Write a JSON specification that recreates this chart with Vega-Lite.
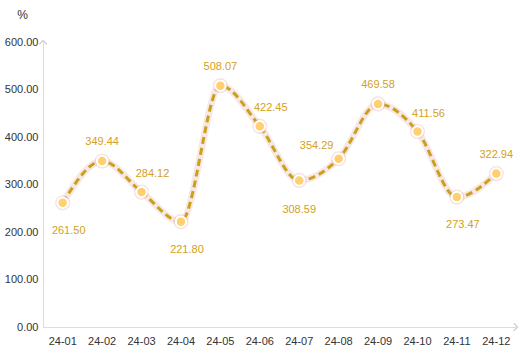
{
  "$schema": "https://vega.github.io/schema/vega-lite/v6.json",
  "width": 473,
  "height": 285,
  "autosize": "none",
  "padding": {"left": 43, "top": 42, "right": 13, "bottom": 36},
  "background": "white",
  "config": {
    "view": {"stroke": null},
    "font": "Liberation Sans",
    "axis": {"labelFont": "Liberation Sans", "titleFont": "Liberation Sans"}
  },
  "datasets": {
    "main": [
      {"month": "24-01", "value": 261.50},
      {"month": "24-02", "value": 349.44},
      {"month": "24-03", "value": 284.12},
      {"month": "24-04", "value": 221.80},
      {"month": "24-05", "value": 508.07},
      {"month": "24-06", "value": 422.45},
      {"month": "24-07", "value": 308.59},
      {"month": "24-08", "value": 354.29},
      {"month": "24-09", "value": 469.58},
      {"month": "24-10", "value": 411.56},
      {"month": "24-11", "value": 273.47},
      {"month": "24-12", "value": 322.94}
    ],
    "arrows": [
      {"month": "24-01", "value": 600, "dir": "up"},
      {"month": "24-12", "value": 0, "dir": "right"}
    ]
  },
  "data": {"name": "main"},
  "encoding": {
    "x": {
      "field": "month", "type": "ordinal", "sort": null,
      "scale": {"type": "band", "paddingInner": 0, "paddingOuter": 0},
      "axis": {"title": null, "labelAngle": 0, "ticks": false, "labelPadding": 8, "domainColor": "#dddddd", "labelColor": "#333333", "labelFontSize": 11, "grid": false}
    },
    "y": {
      "field": "value", "type": "quantitative",
      "scale": {"domain": [0, 600], "nice": false},
      "axis": {"title": "%", "titleAngle": 0, "titleX": -21, "titleY": -28, "titleAlign": "center", "titleBaseline": "middle", "titleFontWeight": "normal", "titleFontSize": 12, "titleColor": "#333333", "values": [0, 100, 200, 300, 400, 500, 600], "format": ".2f", "ticks": false, "labelPadding": 5, "domainColor": "#dddddd", "labelColor": "#333333", "labelFontSize": 11, "grid": false}
    }
  },
  "layer": [
    {"mark": {"type": "line", "interpolate": "monotone", "strokeWidth": 7, "color": "#e8bcb4", "opacity": 0.35}},
    {"mark": {"type": "line", "interpolate": "monotone", "strokeWidth": 3, "color": "#C9A11C", "strokeDash": [7, 4]}},
    {"mark": {"type": "point", "filled": true, "size": 230, "color": "#e4aca2", "opacity": 0.35}},
    {"mark": {"type": "point", "filled": true, "size": 110, "fill": "#FFCF70", "stroke": "#ffffff", "strokeWidth": 2, "opacity": 1}},
    {
      "transform": [{"filter": {"field": "month", "oneOf": ["24-02", "24-05", "24-09", "24-12"]}}],
      "mark": {"type": "text", "dy": -19, "fontSize": 11, "color": "#D4A020"},
      "encoding": {"text": {"field": "value", "type": "quantitative", "format": ".2f"}}
    },
    {
      "transform": [{"filter": {"field": "month", "oneOf": ["24-03", "24-06", "24-10"]}}],
      "mark": {"type": "text", "dy": -18, "dx": 11, "fontSize": 11, "color": "#D4A020"},
      "encoding": {"text": {"field": "value", "type": "quantitative", "format": ".2f"}}
    },
    {
      "transform": [{"filter": {"field": "month", "oneOf": ["24-08"]}}],
      "mark": {"type": "text", "dy": -13, "dx": -22, "fontSize": 11, "color": "#D4A020"},
      "encoding": {"text": {"field": "value", "type": "quantitative", "format": ".2f"}}
    },
    {
      "transform": [{"filter": {"field": "month", "oneOf": ["24-01", "24-04", "24-11"]}}],
      "mark": {"type": "text", "dy": 28, "dx": 6, "fontSize": 11, "color": "#D4A020"},
      "encoding": {"text": {"field": "value", "type": "quantitative", "format": ".2f"}}
    },
    {
      "transform": [{"filter": {"field": "month", "oneOf": ["24-07"]}}],
      "mark": {"type": "text", "dy": 30, "fontSize": 11, "color": "#D4A020"},
      "encoding": {"text": {"field": "value", "type": "quantitative", "format": ".2f"}}
    },
    {
      "data": {"name": "arrows"},
      "transform": [{"filter": "datum.dir === 'up'"}],
      "mark": {"type": "point", "shape": "M-1,0.6L0,-0.4L1,0.6", "filled": false, "stroke": "#cccccc", "strokeWidth": 1.2, "size": 60, "opacity": 1},
      "encoding": {
        "x": {"field": "month", "type": "ordinal", "bandPosition": 0}
      }
    },
    {
      "data": {"name": "arrows"},
      "transform": [{"filter": "datum.dir === 'right'"}],
      "mark": {"type": "point", "shape": "M-0.6,-1L0.4,0L-0.6,1", "filled": false, "stroke": "#cccccc", "strokeWidth": 1.2, "size": 60, "opacity": 1},
      "encoding": {
        "x": {"field": "month", "type": "ordinal", "bandPosition": 1}
      }
    }
  ]
}
